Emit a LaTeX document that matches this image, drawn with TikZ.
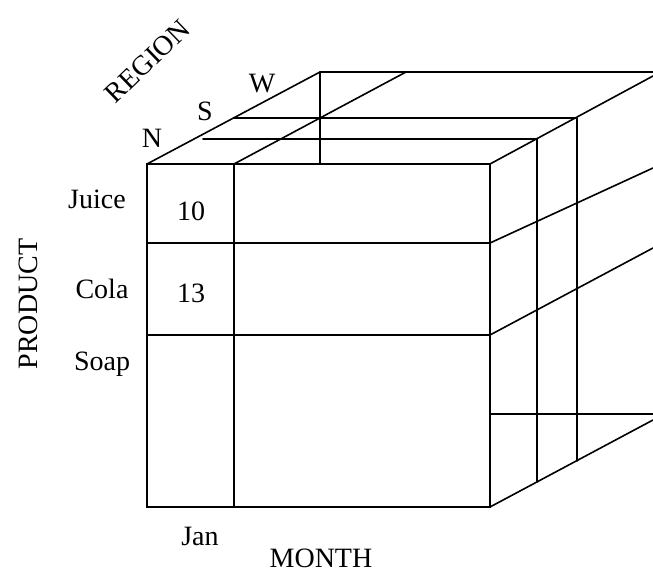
\documentclass[tikz,border=0pt]{standalone}
\usepackage{fontspec}
\setmainfont{Liberation Serif}
\begin{document}
\begin{tikzpicture}[x=1pt,y=-1pt,
  edge/.style={line width=1.6pt,line cap=round},
  lbl/.style={anchor=base,inner sep=0pt,font=\fontsize{28}{33}\selectfont}]
\useasboundingbox (0,0) rectangle (653,572);
% front face corners and grid points
\coordinate (A) at (147,164);
\coordinate (B) at (490,164);
\coordinate (C) at (490,507);
\coordinate (D) at (147,507);
\coordinate (Am) at (234,164);
\coordinate (Dm) at (234,507);
\coordinate (L1) at (147,243);
\coordinate (R1) at (490,243);
\coordinate (L2) at (147,335);
\coordinate (R2) at (490,335);
% top face points
\coordinate (Ab) at (320,72);
\coordinate (Amb) at (406,72);
\coordinate (Bb) at (653,76);
\coordinate (Tb) at (653,72);
\coordinate (Sh1) at (234,118);
\coordinate (Sh2) at (577,118);
\coordinate (Nh1) at (203,139);
\coordinate (Nh2) at (537,139);
% right face points
\coordinate (V1b) at (537,482);
\coordinate (V2b) at (577,461);
\coordinate (R1e) at (653,168);
\coordinate (R2e) at (653,248);
\coordinate (H1) at (490,414);
\coordinate (H2) at (653,414);
\coordinate (Ce) at (653,420);

% front face
\draw[edge] (A) rectangle (C);
\draw[edge] (Am) -- (Dm);
\draw[edge] (L1) -- (R1);
\draw[edge] (L2) -- (R2);
% top face
\draw[edge] (A) -- (Ab) -- (Tb);
\draw[edge] (Am) -- (Amb);
\draw[edge] (B) -- (Bb);
\draw[edge] (Sh1) -- (Sh2);
\draw[edge] (Nh1) -- (Nh2);
\draw[edge] (Ab) -- (320,164);
% right face
\draw[edge] (Nh2) -- (V1b);
\draw[edge] (Sh2) -- (V2b);
\draw[edge] (R1) -- (R1e);
\draw[edge] (R2) -- (R2e);
\draw[edge] (H1) -- (H2);
\draw[edge] (C) -- (Ce);

% labels
\node[lbl,rotate=44] (region) at (154,68) {REGION};
\node[lbl] (w) at (262,93) {W};
\node[lbl] (s) at (205,121) {S};
\node[lbl] (n) at (152,148) {N};
\node[lbl] (juice) at (97,209) {Juice};
\node[lbl] (cola) at (102,298) {Cola};
\node[lbl] (soap) at (102,370) {Soap};
\node[lbl] (v10) at (191,220) {10};
\node[lbl] (v13) at (191,302) {13};
\node[lbl,rotate=90] (product) at (37,304) {PRODUCT};
\node[lbl] (jan) at (200,545) {Jan};
\node[lbl] (month) at (321,567) {MONTH};
\end{tikzpicture}
\end{document}
